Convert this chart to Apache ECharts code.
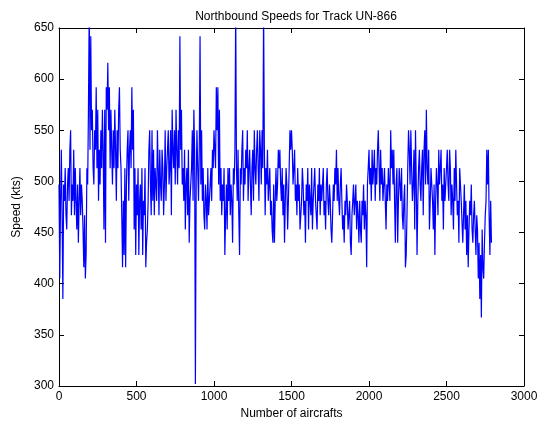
<!DOCTYPE html>
<html>
<head>
<meta charset="utf-8">
<script src="https://cdn.jsdelivr.net/npm/echarts@6/dist/echarts.min.js"></script>
<style>html,body{margin:0;padding:0;background:#fff;}#c{width:550px;height:425px;}</style>
</head>
<body>
<div id="c"></div>
<script>
// Aircraft number step between samples
var step = 5;
// Speeds (kts), aircraft 0-495
var speeds0 = [
 497,405,481,531,467,385,497,481,513,467,453,497,513,481,531,550,467,497,481,531,
 467,513,481,453,497,440,481,513,467,497,481,453,416,467,405,428,513,497,570,670,
 531,642,550,570,513,497,550,531,592,513,570,481,531,497,550,513,570,531,453,570,
 440,592,570,616,550,592,513,570,531,497,550,513,570,531,481,550,513,570,592,531,
 513,467,416,481,428,513,416,497,531,550,481,531,550,513,592,531,570,453,513,428
];
// aircraft 500-995
var speeds500 = [
 497,467,513,428,481,497,453,513,428,481,467,513,416,440,453,481,531,550,497,467,
 550,481,531,467,513,497,481,550,513,467,531,497,481,531,513,467,497,550,481,513,
 531,550,497,513,550,467,570,531,513,550,497,570,531,497,550,513,642,531,570,497,
 513,481,531,453,497,513,467,531,440,481,497,513,550,481,570,531,302,497,550,513,
 481,531,642,497,550,481,513,467,453,497,481,453,513,467,481,497,513,481,531,513
];
// aircraft 1000-1495
var speeds1000 = [
 550,531,513,592,550,592,497,570,481,513,467,497,481,513,428,467,497,453,513,481,
 513,467,497,481,440,513,497,531,670,513,481,531,467,428,513,497,531,550,481,513,
 497,531,513,550,481,513,531,497,467,513,531,481,550,513,497,531,550,513,481,550,
 531,497,550,513,670,531,467,513,497,531,481,497,513,467,481,453,440,497,440,481,
 513,481,497,531,513,531,497,481,513,467,497,440,481,513,497,453,481,513,550,531
];
// aircraft 1500-1995
var speeds1500 = [
 550,531,497,513,531,481,497,467,513,481,497,453,467,481,513,497,467,481,440,497,
 481,513,453,497,481,467,513,453,481,497,513,481,467,453,497,481,513,467,497,481,
 497,513,467,481,453,497,513,481,467,497,481,453,440,467,497,481,513,497,531,481,
 513,481,467,497,513,481,453,467,440,481,467,497,481,453,467,481,440,428,467,481,
 497,467,481,497,453,481,467,440,481,453,440,481,467,497,453,481,467,416,497,513
];
// aircraft 2000-2495
var speeds2000 = [
 531,497,513,481,531,497,513,531,481,513,497,531,550,513,481,531,497,513,481,497,
 513,481,453,497,481,513,497,481,550,513,531,497,531,481,440,497,513,440,481,513,
 497,481,513,467,453,481,497,416,428,467,513,550,531,497,550,513,481,497,531,453,
 550,497,428,481,513,531,497,481,513,531,467,531,550,497,570,513,497,531,453,481,
 513,497,481,453,497,428,481,513,497,467,531,497,513,531,481,497,453,513,481,497
];
// aircraft 2500-2790
var speeds2500 = [
 513,531,497,481,531,513,467,497,481,453,513,481,531,497,467,481,440,513,497,481,
 481,440,467,497,453,481,428,467,416,453,481,467,497,453,440,467,481,453,428,467,
 453,405,440,385,428,367,453,416,405,440,467,481,531,497,531,467,428,481,440
];
var xMin = 0, xMax = 3000, xInterval = 500;
var yMin = 300, yMax = 650, yInterval = 50;

var speeds = [].concat(speeds0, speeds500, speeds1000, speeds1500, speeds2000, speeds2500);
var data = speeds.map(function (v, i) { return [i * step, v]; });

var font = 'Liberation Sans, Arial, Helvetica, sans-serif';
var plain = function (v) { return String(v); };
var chart = echarts.init(document.getElementById('c'), null, {renderer: 'canvas'});
var axisCommon = {
  axisLine: {show: true, onZero: false, lineStyle: {color: '#000', width: 1}},
  axisTick: {show: true, inside: true, length: 5, lineStyle: {color: '#000'}},
  splitLine: {show: false}
};
chart.setOption({
  animation: false,
  backgroundColor: '#fff',
  title: {
    text: 'Northbound Speeds for Track UN-866',
    left: 291, top: 6, textAlign: 'center',
    textStyle: {fontSize: 12, fontWeight: 'normal', color: '#000', fontFamily: font}
  },
  grid: {left: 59, right: 26, top: 28, bottom: 39, containLabel: false},
  xAxis: [
    Object.assign({}, axisCommon, {
      type: 'value', min: xMin, max: xMax, interval: xInterval, position: 'bottom',
      name: 'Number of aircrafts', nameLocation: 'middle', nameGap: 19,
      nameTextStyle: {color: '#000', fontSize: 12, fontFamily: font},
      axisLabel: {color: '#000', fontSize: 12, fontFamily: font, margin: 5, formatter: plain}
    }),
    Object.assign({}, axisCommon, {
      type: 'value', min: xMin, max: xMax, interval: xInterval, position: 'top',
      axisLabel: {show: false}
    })
  ],
  yAxis: [
    Object.assign({}, axisCommon, {
      type: 'value', min: yMin, max: yMax, interval: yInterval, position: 'left',
      name: 'Speed (kts)', nameLocation: 'middle', nameGap: 35, nameRotate: 90,
      nameTextStyle: {color: '#000', fontSize: 12, fontFamily: font},
      axisLabel: {color: '#000', fontSize: 12, fontFamily: font, margin: 5, formatter: plain}
    }),
    Object.assign({}, axisCommon, {
      type: 'value', min: yMin, max: yMax, interval: yInterval, position: 'right',
      axisLabel: {show: false}
    })
  ],
  series: [{
    type: 'line',
    data: data,
    xAxisIndex: 0, yAxisIndex: 0,
    showSymbol: false,
    clip: true,
    lineStyle: {color: '#0000ff', width: 1.2},
    sampling: null
  }]
});
</script>
</body>
</html>
